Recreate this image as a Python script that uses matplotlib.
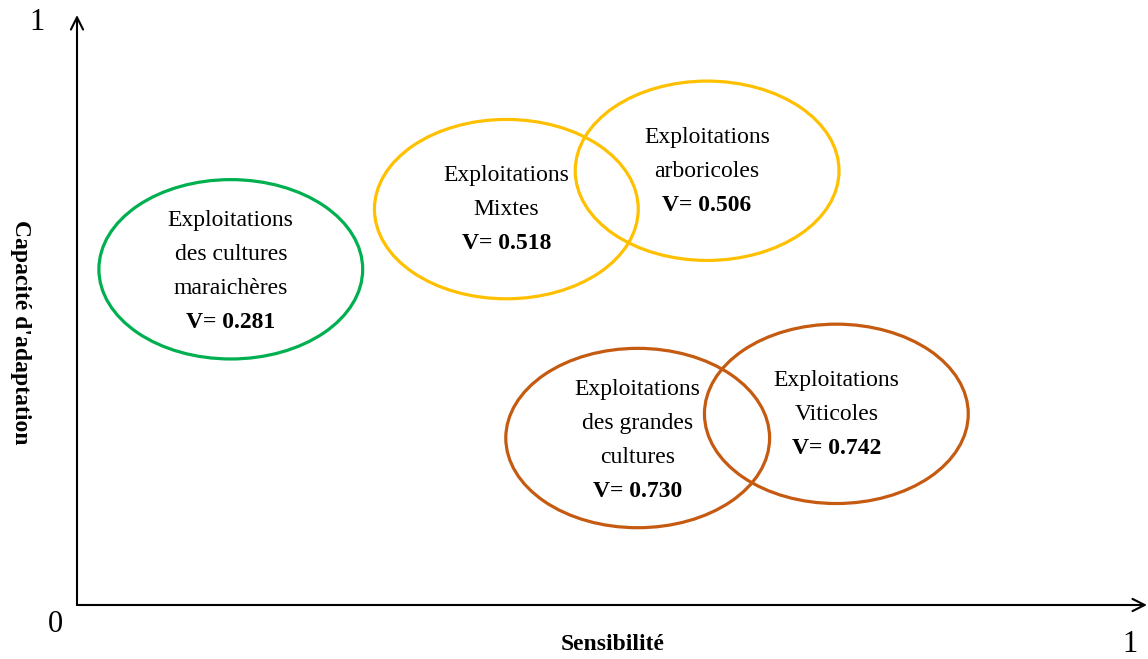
import matplotlib
matplotlib.use("Agg")
import matplotlib.pyplot as plt
from matplotlib.patches import Ellipse

plt.rcParams['font.family'] = ['Liberation Serif', 'DejaVu Serif']

# Data: groups positioned by (sensibilité, capacité d'adaptation)
group_lines = [
    ["Exploitations", "des cultures", "maraichères"],
    ["Exploitations", "Mixtes"],
    ["Exploitations", "arboricoles"],
    ["Exploitations", "des grandes", "cultures"],
    ["Exploitations", "Viticoles"],
]
v_values = [0.281, 0.518, 0.506, 0.730, 0.742]
sensibilite = [0.144, 0.402, 0.590, 0.525, 0.711]
capacite = [0.569, 0.671, 0.736, 0.283, 0.324]
colors = ["#00B050", "#FFC000", "#FFC000", "#C55A11", "#C55A11"]

W, H = 1148, 659
fig = plt.figure(figsize=(W / 100, H / 100), dpi=100)
ax = fig.add_axes([77 / W, 54 / H, 1068 / W, 590 / H])
ax.set_xlim(0, 1)
ax.set_ylim(0, 1)
ax.axis('off')

ell_w, ell_h = 0.247, 0.304
line_step = 24.5  # points
for lines, v, sx, cy, col in zip(group_lines, v_values, sensibilite, capacite, colors):
    e = Ellipse((sx, cy), ell_w, ell_h, fill=False, edgecolor=col, linewidth=2.3)
    ax.add_patch(e)
    all_lines = lines + [f"V= {v:.3f}"]
    n = len(all_lines)
    shift = -1.5 if n == 4 else -0.5
    for i, txt in enumerate(all_lines):
        off = -((i - (n - 1) / 2) * line_step) + shift
        ax.annotate(txt, (sx, cy), xytext=(0, off), textcoords='offset points',
                    ha='center', va='center', fontsize=17,
                    fontweight='bold' if i == n - 1 else 'normal', color='black')

# Axes arrows
ax.annotate("", xy=(1.0 + 2 / 1068, 0), xytext=(0, 0), xycoords='axes fraction',
            arrowprops=dict(arrowstyle='->', lw=1.5, color='black',
                            mutation_scale=22, shrinkA=0, shrinkB=0),
            annotation_clip=False)
ax.annotate("", xy=(0, 1.0), xytext=(0, 0), xycoords='axes fraction',
            arrowprops=dict(arrowstyle='->', lw=1.5, color='black',
                            mutation_scale=22, shrinkA=0, shrinkB=0),
            annotation_clip=False)

# Corner labels
fig.text(37 / W, 1 - 22 / H, "1", ha='center', va='center', fontsize=22)
fig.text(55 / W, 1 - 625 / H, "0", ha='center', va='center', fontsize=22)
fig.text(1130 / W, 1 - 645 / H, "1", ha='center', va='center', fontsize=22)

# Axis titles
fig.text(613 / W, 1 - 645 / H, "Sensibilité", ha='center', va='center',
         fontsize=17, fontweight='bold')
fig.text(20 / W, 1 - 332 / H, "Capacité d'adaptation", ha='center', va='center',
         fontsize=17, fontweight='bold', rotation=270)

fig.savefig("out.png", dpi=100, facecolor='white')
